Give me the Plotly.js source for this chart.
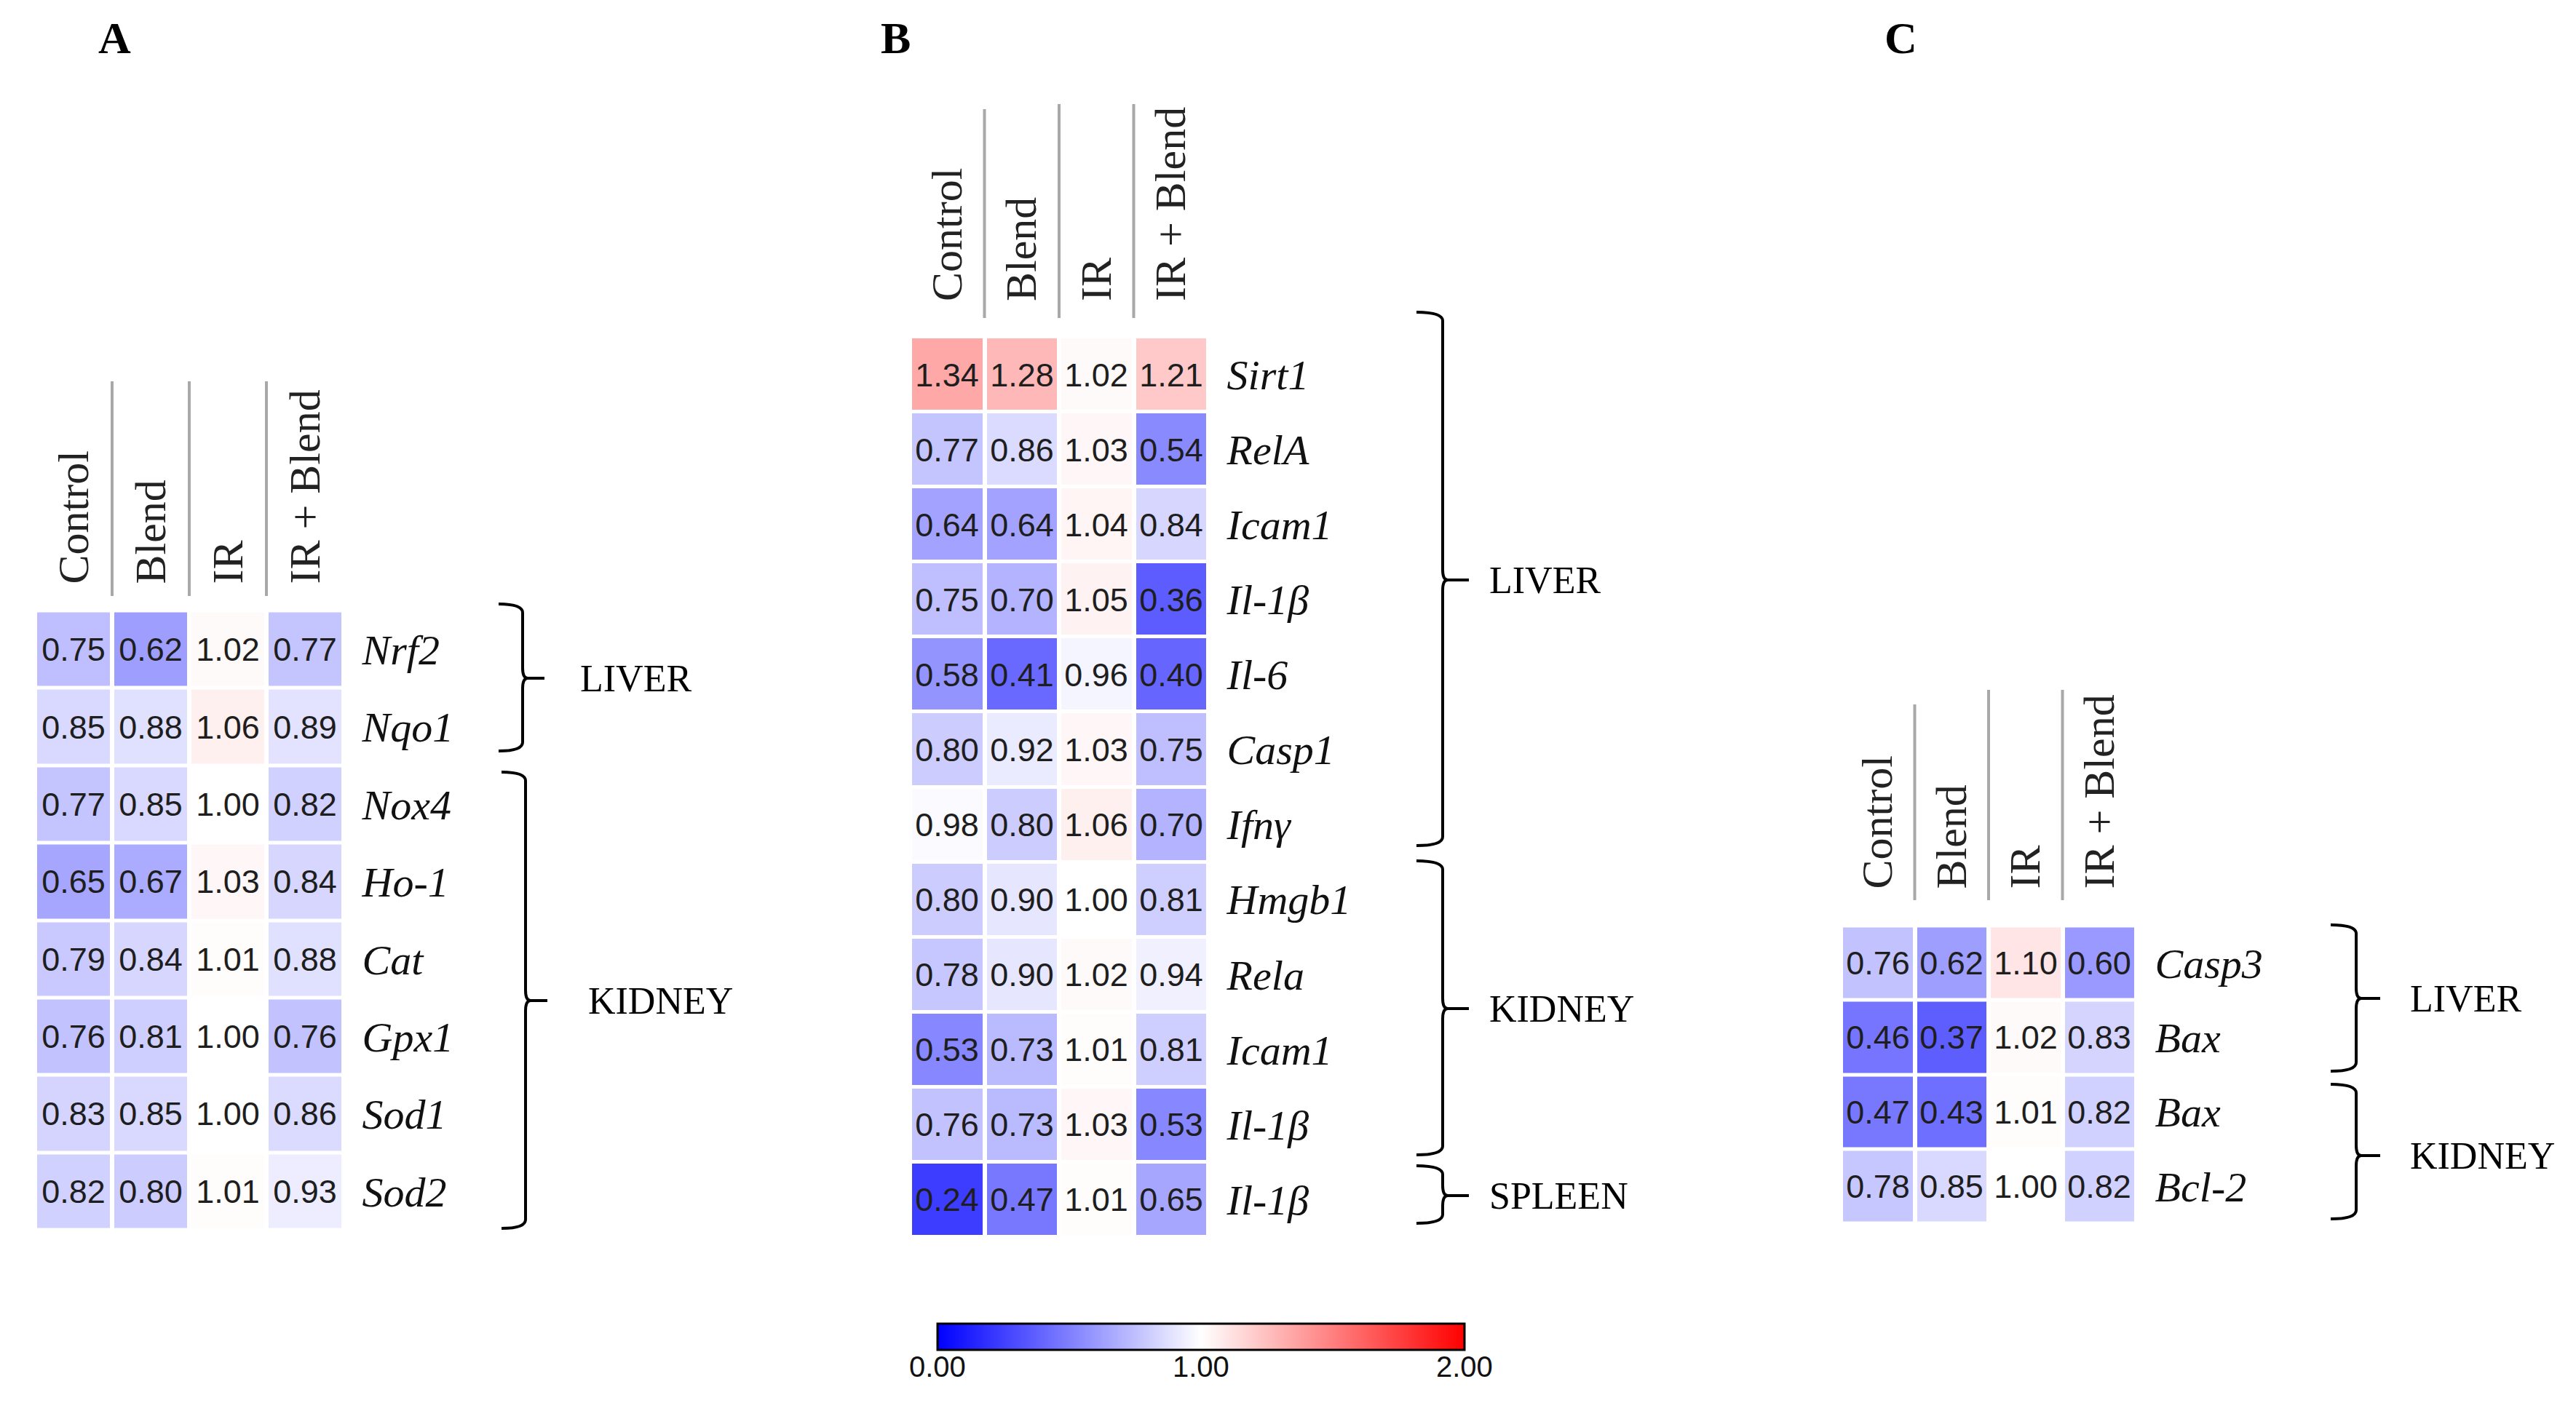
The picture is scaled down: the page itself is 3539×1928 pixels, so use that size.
<!DOCTYPE html>
<html><head><meta charset="utf-8">
<script src="https://cdn.plot.ly/plotly-3.0.1.min.js"></script>
<style>html,body{margin:0;padding:0;background:#fff;}#chart{width:3539px;height:1928px;}</style>
</head><body><div id="chart"></div>
<script>
// ---------- data ----------
const columns = ['Control', 'Blend', 'IR', 'IR + Blend'];

const genesA = ['Nrf2', 'Nqo1', 'Nox4', 'Ho-1', 'Cat', 'Gpx1', 'Sod1', 'Sod2'];
const valuesA = [
  [0.75, 0.62, 1.02, 0.77],
  [0.85, 0.88, 1.06, 0.89],
  [0.77, 0.85, 1.00, 0.82],
  [0.65, 0.67, 1.03, 0.84],
  [0.79, 0.84, 1.01, 0.88],
  [0.76, 0.81, 1.00, 0.76],
  [0.83, 0.85, 1.00, 0.86],
  [0.82, 0.80, 1.01, 0.93]
];
const organsA = ['LIVER', 'KIDNEY'];

const genesB = ['Sirt1', 'RelA', 'Icam1', 'Il-1β', 'Il-6', 'Casp1', 'Ifnγ', 'Hmgb1', 'Rela', 'Icam1', 'Il-1β', 'Il-1β'];
const valuesB = [
  [1.34, 1.28, 1.02, 1.21],
  [0.77, 0.86, 1.03, 0.54],
  [0.64, 0.64, 1.04, 0.84],
  [0.75, 0.70, 1.05, 0.36],
  [0.58, 0.41, 0.96, 0.40],
  [0.80, 0.92, 1.03, 0.75],
  [0.98, 0.80, 1.06, 0.70],
  [0.80, 0.90, 1.00, 0.81],
  [0.78, 0.90, 1.02, 0.94],
  [0.53, 0.73, 1.01, 0.81],
  [0.76, 0.73, 1.03, 0.53],
  [0.24, 0.47, 1.01, 0.65]
];
const organsB = ['LIVER', 'KIDNEY', 'SPLEEN'];

const genesC = ['Casp3', 'Bax', 'Bax', 'Bcl-2'];
const valuesC = [
  [0.76, 0.62, 1.10, 0.60],
  [0.46, 0.37, 1.02, 0.83],
  [0.47, 0.43, 1.01, 0.82],
  [0.78, 0.85, 1.00, 0.82]
];
const organsC = ['LIVER', 'KIDNEY'];

const panelLetters = ['A', 'B', 'C'];
const colorbarTicks = [0, 1, 2];
const colorbarTickText = ['0.00', '1.00', '2.00'];

// ---------- layout geometry (pixels) ----------
const W = 3539, H = 1928;
const px = x => x / W;
const py = y => 1 - y / H;

const panels = [
  { genes: genesA, values: valuesA, organs: organsA,
    x: [48, 472], y: [839.5, 1690.5], sepTop: [524, 524, 524], sepBot: 819, headPad: 24,
    braces: [ {xs: 718, yt: 830, yb: 1032, ym: 932}, {xs: 722, yt: 1061, yb: 1688, ym: 1375} ],
    hook: 33, tick: 30, textX: [795, 806], letter: [157, 52] },
  { genes: genesB, values: valuesB, organs: organsB,
    x: [1250, 1660], y: [463, 1700], sepTop: [150, 143, 143], sepBot: 437, headPad: 36,
    braces: [ {xs: 1982, yt: 429, yb: 1162, ym: 797}, {xs: 1982, yt: 1183, yb: 1587, ym: 1386}, {xs: 1982, yt: 1602, yb: 1681, ym: 1643} ],
    hook: 36, tick: 36, textX: [2044, 2044, 2044], letter: [1230, 52] },
  { genes: genesC, values: valuesC, organs: organsC,
    x: [2529, 2935], y: [1272.5, 1681.5], sepTop: [968, 948, 948], sepBot: 1237, headPad: 38,
    braces: [ {xs: 3237, yt: 1271, yb: 1472, ym: 1372}, {xs: 3237, yt: 1490, yb: 1675, ym: 1588} ],
    hook: 35, tick: 33, textX: [3309, 3309], letter: [2611, 52] }
];

const cbar = {left: 1288, right: 2012, top: 1819, thick: 36, labelY: 1878};

const serif = 'Liberation Serif, Times New Roman, serif';
const sans = 'Liberation Sans, Arial, sans-serif';

const data = [];
const layout = {
  width: W, height: H,
  margin: {l: 0, r: 0, t: 0, b: 0},
  paper_bgcolor: '#fff', plot_bgcolor: '#fff',
  showlegend: false,
  coloraxis: {
    cmin: 0, cmax: 2,
    colorscale: [[0, 'rgb(0,0,255)'], [0.5, 'rgb(255,255,255)'], [1, 'rgb(255,0,0)']],
    colorbar: {
      orientation: 'h', thickness: cbar.thick, thicknessmode: 'pixels',
      len: cbar.right - cbar.left, lenmode: 'pixels',
      x: px((cbar.left + cbar.right) / 2), xanchor: 'center', y: py(cbar.top), yanchor: 'top',
      xpad: 0, ypad: 0,
      outlinewidth: 3, outlinecolor: '#000',
      tickvals: colorbarTicks, showticklabels: false, ticks: ''
    }
  },
  shapes: [], annotations: []
};

// colorbar tick labels, placed along the bar by value
colorbarTicks.forEach((v, k) => {
  layout.annotations.push({
    xref: 'paper', yref: 'paper',
    x: px(cbar.left + (v - layout.coloraxis.cmin) / (layout.coloraxis.cmax - layout.coloraxis.cmin) * (cbar.right - cbar.left)),
    y: py(cbar.labelY), xanchor: 'center', yanchor: 'middle', showarrow: false,
    text: colorbarTickText[k], font: {family: sans, size: 40, color: '#111'}
  });
});

function bracePath(xs, yt, yb, ym, hook, bulge) {
  const P = (x, y) => px(x) + ',' + py(y);
  return 'M' + P(xs - hook, yt) + ' Q' + P(xs, yt) + ' ' + P(xs, yt + 12) +
         ' L' + P(xs, ym - 14) + ' Q' + P(xs, ym) + ' ' + P(xs + bulge, ym) +
         ' Q' + P(xs, ym) + ' ' + P(xs, ym + 14) +
         ' L' + P(xs, yb - 12) + ' Q' + P(xs, yb) + ' ' + P(xs - hook, yb);
}

panels.forEach((p, i) => {
  const n = i === 0 ? '' : String(i + 1);
  const xa = 'x' + n, ya = 'y' + n;
  const rows = p.genes.map((g, k) => k);
  data.push({
    type: 'heatmap',
    x: columns.map((c, k) => k), y: rows, z: p.values,
    xaxis: xa, yaxis: ya,
    coloraxis: 'coloraxis',
    xgap: 6, ygap: 5,
    texttemplate: '%{z:.2f}',
    textfont: {family: sans, size: 45, color: '#1e1e1e'},
    hoverinfo: 'skip'
  });
  layout['xaxis' + n] = {
    domain: [px(p.x[0]), px(p.x[1])], anchor: ya, side: 'top',
    range: [-0.5, columns.length - 0.5],
    tickvals: columns.map((c, k) => k), ticktext: columns,
    tickangle: -90, ticks: 'outside', ticklen: p.headPad, tickcolor: 'rgba(0,0,0,0)',
    tickfont: {family: serif, size: 60, color: '#222'},
    showgrid: false, zeroline: false, showline: false, fixedrange: true
  };
  layout['yaxis' + n] = {
    domain: [py(p.y[1]), py(p.y[0])], anchor: xa, side: 'right',
    range: [p.genes.length - 0.5, -0.5],
    tickvals: rows, ticktext: p.genes.map(g => '<i>' + g + '</i>'),
    ticks: 'outside', ticklen: 13, tickcolor: 'rgba(0,0,0,0)',
    tickfont: {family: serif, size: 58, color: '#111'},
    showgrid: false, zeroline: false, showline: false, fixedrange: true
  };
  // header separators at column boundaries
  for (let k = 0; k < columns.length - 1; k++) {
    layout.shapes.push({
      type: 'line', xref: xa, yref: 'paper',
      x0: k + 0.5, x1: k + 0.5, y0: py(p.sepBot), y1: py(p.sepTop[k]),
      line: {color: '#a8a8a8', width: 4}
    });
  }
  // braces + organ labels
  p.braces.forEach((b, k) => {
    layout.shapes.push({
      type: 'path', xref: 'paper', yref: 'paper',
      path: bracePath(b.xs, b.yt, b.yb, b.ym, p.hook, 7),
      line: {color: '#000', width: 4}
    });
    layout.shapes.push({
      type: 'line', xref: 'paper', yref: 'paper',
      x0: px(b.xs + 6), x1: px(b.xs + p.tick), y0: py(b.ym), y1: py(b.ym),
      line: {color: '#000', width: 4}
    });
    layout.annotations.push({
      xref: 'paper', yref: 'paper', x: px(p.textX[k]), y: py(b.ym),
      xanchor: 'left', yanchor: 'middle', showarrow: false,
      text: p.organs[k], font: {family: serif, size: 52, color: '#000'}
    });
  });
  layout.annotations.push({
    xref: 'paper', yref: 'paper', x: px(p.letter[0]), y: py(p.letter[1]),
    xanchor: 'center', yanchor: 'middle', showarrow: false,
    text: '<b>' + panelLetters[i] + '</b>', font: {family: serif, size: 62, color: '#000'}
  });
});

Plotly.newPlot('chart', data, layout, {staticPlot: true, displayModeBar: false});
</script>
</body></html>
